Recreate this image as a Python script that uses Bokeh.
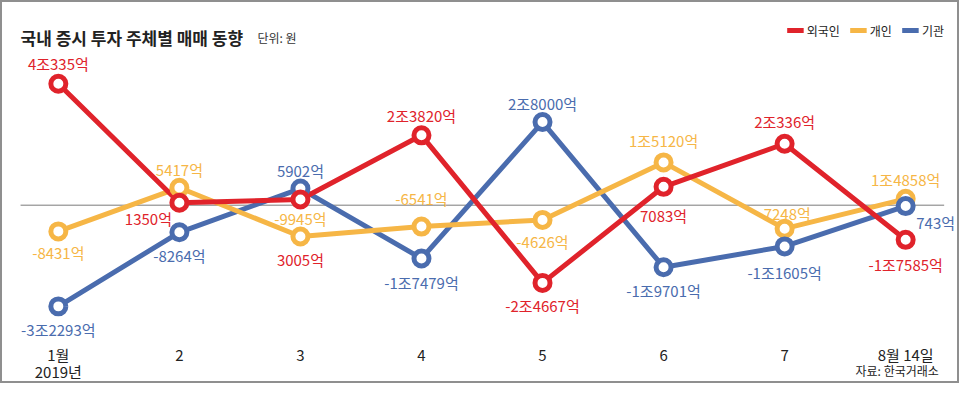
from bokeh.plotting import figure
from bokeh.models import (ColumnDataSource, Range1d, LabelSet, Label,
                          Legend, LegendItem, LinearAxis, FixedTicker)
from bokeh.core.properties import value
from bokeh.embed import file_html
from bokeh.resources import INLINE

# ---------------- data (단위: 억 원) ----------------
months = ["1월", "2", "3", "4", "5", "6", "7", "8월 14일"]
year_label = "2019년"
series_names = ["외국인", "개인", "기관"]

foreign = [40335, 800, 1900, 23200, -25800, 6100, 20400, -11500]
individual = [-8700, 5800, -10400, -7100, -4900, 14200, -7800, 2100]
institution = [-33600, -9000, 5500, -17700, 27600, -20600, -13700, -300]

foreign_labels = ["4조335억", "1350억", "3005억", "2조3820억", "-2조4667억",
                  "7083억", "2조336억", "-1조7585억"]
individual_labels = ["-8431억", "5417억", "-9945억", "-6541억", "-4626억",
                     "1조5120억", "-7248억", "1조4858억"]
institution_labels = ["-3조2293억", "-8264억", "5902억", "-1조7479억", "2조8000억",
                      "-1조9701억", "-1조1605억", "743억"]

title_text = "국내 증시 투자 주체별 매매 동향"
unit_text = "단위: 원"
source_text = "자료: 한국거래소"

# ---------------- style / layout ----------------
FONT = "Noto Sans CJK KR"
RED, YELLOW, BLUE = "#e0232b", "#f6b646", "#4a6cae"
COLORS = {"외국인": RED, "개인": YELLOW, "기관": BLUE}

# label offsets in screen pixels (dx right, dy down)
foreign_off = [(0, -20), (-31, 16), (0, 60), (0, -20), (0, 23), (0, 29), (0, -22), (0, 25)]
individual_off = [(0, 21), (0, -18), (0, -18), (0, -28), (0, 22), (0, -22), (0, -15), (0, -19)]
institution_off = [(0, 23), (0, 23), (0, -18), (0, 24), (0, -19), (0, 23), (0, 26), (30, 16)]

xs = list(range(len(months)))

p = figure(width=959, height=383, output_backend="svg", toolbar_location=None,
           x_range=Range1d(-0.4613, 7.4613), y_range=Range1d(-45595, 67301),
           y_axis_location=None, min_border_left=0, min_border_right=0,
           min_border_top=0, min_border_bottom=43, title=None)
p.styles = {"border": "2px solid #8f8f8f"}
p.outline_line_color = None
p.grid.visible = False
p.background_fill_color = "white"
p.border_fill_color = "white"

# zero baseline
p.segment(x0=[xs[0] - 0.312], y0=[0], x1=[xs[-1] + 0.318], y1=[0],
          line_color="#7a7a7a", line_width=1)

# x axes
ax = p.xaxis[0]
ax.ticker = FixedTicker(ticks=xs)
ax.major_label_overrides = {i: m for i, m in enumerate(months)}
ax.major_label_standoff = 1

ax2 = LinearAxis(ticker=FixedTicker(ticks=[xs[0]]), major_label_overrides={xs[0]: year_label})
p.add_layout(ax2, "below")
ax2.major_label_standoff = -7

src_tick = xs[-1] - 0.07
ax3 = LinearAxis(ticker=FixedTicker(ticks=[src_tick]), major_label_overrides={src_tick: source_text})
p.add_layout(ax3, "below")
ax3.major_label_standoff = -23

for a in (ax, ax2, ax3):
    a.axis_line_color = None
    a.major_tick_line_color = None
    a.minor_tick_line_color = None
    a.major_tick_in = 0
    a.major_tick_out = 0
    a.major_label_text_font = FONT
    a.major_label_text_font_size = "15px"
    a.major_label_text_color = "#222222"
ax3.major_label_text_font_size = "12px"

series = [
    ("외국인", foreign, foreign_labels, foreign_off),
    ("개인", individual, individual_labels, individual_off),
    ("기관", institution, institution_labels, institution_off),
]

sources = {}
for name, vals, labs, offs in series:
    sources[name] = ColumnDataSource(dict(
        x=xs, y=vals, label=labs,
        dx=[o[0] for o in offs], dy=[-o[1] for o in offs]))

line_r = {}
for name in ["기관", "개인", "외국인"]:
    line_r[name] = p.line("x", "y", source=sources[name], line_color=COLORS[name],
                          line_width=5, line_join="round")
for name in ["개인", "기관", "외국인"]:
    p.scatter("x", "y", source=sources[name], size=15, fill_color="white",
              line_color=COLORS[name], line_width=5)

for name, vals, labs, offs in series:
    p.add_layout(LabelSet(x="x", y="y", text="label", source=sources[name],
                          x_offset="dx", y_offset="dy", text_align="center",
                          text_baseline="middle", text_color=COLORS[name],
                          text_font=value(FONT), text_font_size="15px"))

legend = Legend(items=[LegendItem(label=n, renderers=[line_r[n]]) for n in series_names],
                location="top_right", orientation="horizontal", margin=17, padding=0,
                spacing=10, label_standoff=3, glyph_width=17, glyph_height=22,
                label_height=22, label_text_font=FONT, label_text_font_size="12px",
                label_text_color="#222222", background_fill_alpha=0,
                border_line_color=None)
p.add_layout(legend)

p.add_layout(Label(x=18, y=305, x_units="screen", y_units="screen", text=title_text,
                   text_font=FONT, text_font_size="17px", text_font_style="bold",
                   text_color="#222222", text_baseline="middle"))
p.add_layout(Label(x=255, y=305, x_units="screen", y_units="screen", text=unit_text,
                   text_font=FONT, text_font_size="12px", text_color="#333333",
                   text_baseline="middle"))

open("out.html", "w").write(file_html(p, INLINE))
